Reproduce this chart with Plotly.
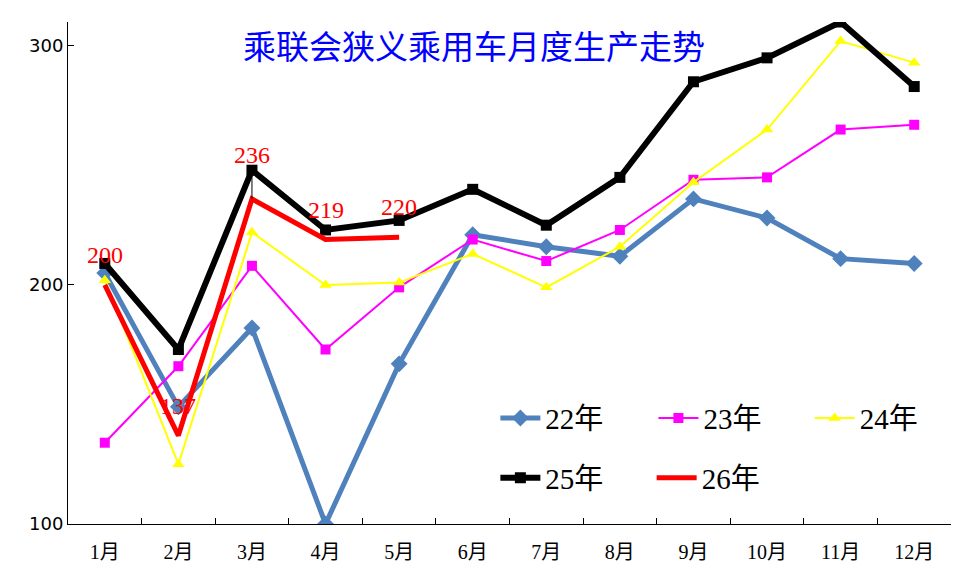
import plotly.graph_objects as go

months = ["1月", "2月", "3月", "4月", "5月", "6月", "7月", "8月", "9月", "10月", "11月", "12月"]
y22 = [205, 149, 182, 100, 167, 221, 216, 212, 236, 228, 211, 209]
y23 = [134, 166, 208, 173, 199, 219, 210, 223, 244, 245, 265, 267]
y24 = [202, 125, 222, 200, 201, 213, 199, 216, 243, 265, 302, 293]
y25 = [209, 173, 248, 223, 227, 240, 225, 245, 285, 295, 310, 283]
y26 = [200, 137, 236, 219, 220]
title_text = "乘联会狭义乘用车月度生产走势"

fig = go.Figure()
fig.add_trace(go.Scatter(x=months, y=y22, name="22年", mode="lines+markers",
                         line=dict(color="#4F81BD", width=5),
                         marker=dict(symbol="diamond", size=13, color="#4F81BD"),
                         legend="legend"))
fig.add_trace(go.Scatter(x=months, y=y23, name="23年", mode="lines+markers",
                         line=dict(color="#FF00FF", width=2),
                         marker=dict(symbol="square", size=10, color="#FF00FF"),
                         legend="legend2"))
fig.add_trace(go.Scatter(x=months, y=y24, name="24年", mode="lines+markers",
                         line=dict(color="#FFFF00", width=2),
                         marker=dict(symbol="triangle-up", size=11, color="#FFFF00"),
                         legend="legend3"))
fig.add_trace(go.Scatter(x=months, y=y25, name="25年", mode="lines+markers",
                         line=dict(color="#000000", width=6),
                         marker=dict(symbol="square", size=11, color="#000000"),
                         legend="legend4"))
fig.add_trace(go.Scatter(x=months[:len(y26)], y=y26, name="26年", mode="lines",
                         line=dict(color="#FF0000", width=5),
                         legend="legend5"))

label_font = dict(family="Liberation Serif, Times New Roman, serif", size=24, color="#FF0000")
for i, v in enumerate(y26):
    if i == 2:
        fig.add_annotation(x=months[i], y=v, text=str(v), showarrow=True, arrowhead=0,
                           arrowwidth=1, arrowcolor="#000000", ax=0, ay=-44,
                           font=label_font, standoff=0)
    else:
        fig.add_annotation(x=months[i], y=v, text=str(v), showarrow=False, yshift=30,
                           font=label_font)

fig.add_annotation(xref="paper", yref="paper", x=0.46, y=0.955, text=title_text,
                   showarrow=False, xanchor="center", yanchor="middle",
                   font=dict(family="Noto Sans CJK SC", size=33, color="#0000FF"))

legend_font = dict(family="Liberation Serif, Noto Sans CJK SC, serif", size=29, color="#000000")


def leg(x, y):
    return dict(orientation="h", x=x, y=y, xanchor="left", yanchor="middle",
                itemwidth=40, font=legend_font, bgcolor="rgba(0,0,0,0)")


fig.update_layout(
    width=976, height=565,
    margin=dict(l=68, r=25, t=22, b=41, autoexpand=False),
    paper_bgcolor="white", plot_bgcolor="white",
    showlegend=True,
    legend=leg(0.484, 0.211),
    legend2=leg(0.663, 0.211),
    legend3=leg(0.840, 0.211),
    legend4=leg(0.484, 0.092),
    legend5=leg(0.661, 0.092),
    xaxis=dict(type="category", showgrid=False, showline=True, linecolor="#000000", linewidth=1,
               ticks="inside", tickson="boundaries", ticklen=6, tickcolor="#000000",
               ticklabelstandoff=10, automargin=False,
               tickfont=dict(family="Liberation Serif, Noto Sans CJK SC, serif", size=20, color="#000000"),
               range=[-0.5, 11.5], zeroline=False),
    yaxis=dict(range=[100, 310], tickvals=[100, 200, 300], showgrid=False, showline=True,
               linecolor="#000000", linewidth=1, ticks="inside", ticklen=6, tickcolor="#000000",
               ticklabelstandoff=0, automargin=False,
               tickfont=dict(family="DejaVu Sans, sans-serif", size=18, color="#000000"),
               zeroline=False),
)

fig.write_html("out.html")
